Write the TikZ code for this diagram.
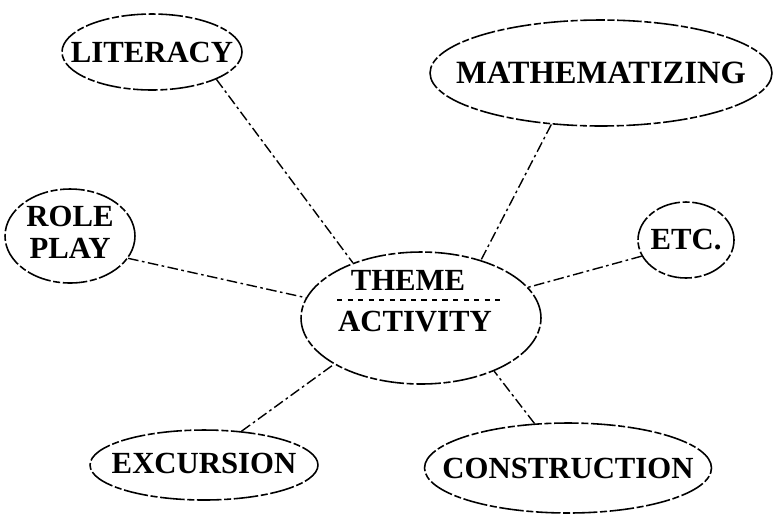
\documentclass[tikz,border=0pt]{standalone}
\usepackage{fontspec}
\setmainfont{Liberation Serif}
\usetikzlibrary{shapes.geometric}
\def\snug#1{\makebox[0pt]{#1}}
\tikzset{
	bubble/.style={ellipse, draw, line width=0.9pt, inner sep=0pt, dash pattern=on 14pt off 1.5pt on 4pt off 1.5pt, font=\bfseries\fontsize{17.5}{15}\selectfont},
	spoke/.style={line width=0.8pt, dash pattern=on 6pt off 2pt on 1.5pt off 2pt},
	label/.style={font=\bfseries\fontsize{17.5}{15}\selectfont, inner sep=0pt}
}

\begin{document}
\begin{tikzpicture}[x=0.02cm, y=-0.02cm]
			%%%%% START %%%%%
			\useasboundingbox (0, 0) rectangle (776, 515);
			
			\node[bubble, minimum width=3.6cm, minimum height=1.52cm] (lit) at (152, 52) {\snug{LITERACY}};
			\node[bubble, minimum width=6.84cm, minimum height=2.12cm] (math) at (601, 73) {\snug{\raisebox{-4pt}{\fontsize{18.5}{15}\selectfont MATHEMATIZING}}};
			\node[bubble, minimum width=2.6cm, minimum height=1.88cm] (role) at (70, 236) {\snug{\begin{tabular}{@{}c@{}}ROLE\\[2pt]PLAY\end{tabular}}};
			\node[bubble, minimum width=1.92cm, minimum height=1.52cm] (etc) at (686, 240) {\snug{ETC.}};
			\node[bubble, minimum width=4.56cm, minimum height=1.4cm] (exc) at (204, 465) {\snug{\raisebox{2pt}{EXCURSION}}};
			\node[bubble, minimum width=5.74cm, minimum height=1.8cm] (con) at (568, 468) {\snug{CONSTRUCTION}};
			
			% centre
			\node[bubble, minimum width=4.8cm, minimum height=2.64cm] (theme) at (421, 318) {};
			\node[label] (themetxt) at (408, 280) {THEME};
			\node[label] (acttxt) at (415, 322) {ACTIVITY};
			\draw[dashed, line width=0.8pt] (337, 300) -- (505, 300);
			
			% spokes
			\draw[spoke] (lit.-23) -- (theme.141);
			\draw[spoke] (math.226) -- (theme.44);
			\draw[spoke] (role.-21) -- (theme.170);
			\draw[spoke] (etc.200) -- (theme.16);
			\draw[spoke] (exc.42) -- (theme.208);
			\draw[spoke] (con.127) -- (theme.-36);
			
			%%%%% END %%%%%
		\end{tikzpicture}
\end{document}
